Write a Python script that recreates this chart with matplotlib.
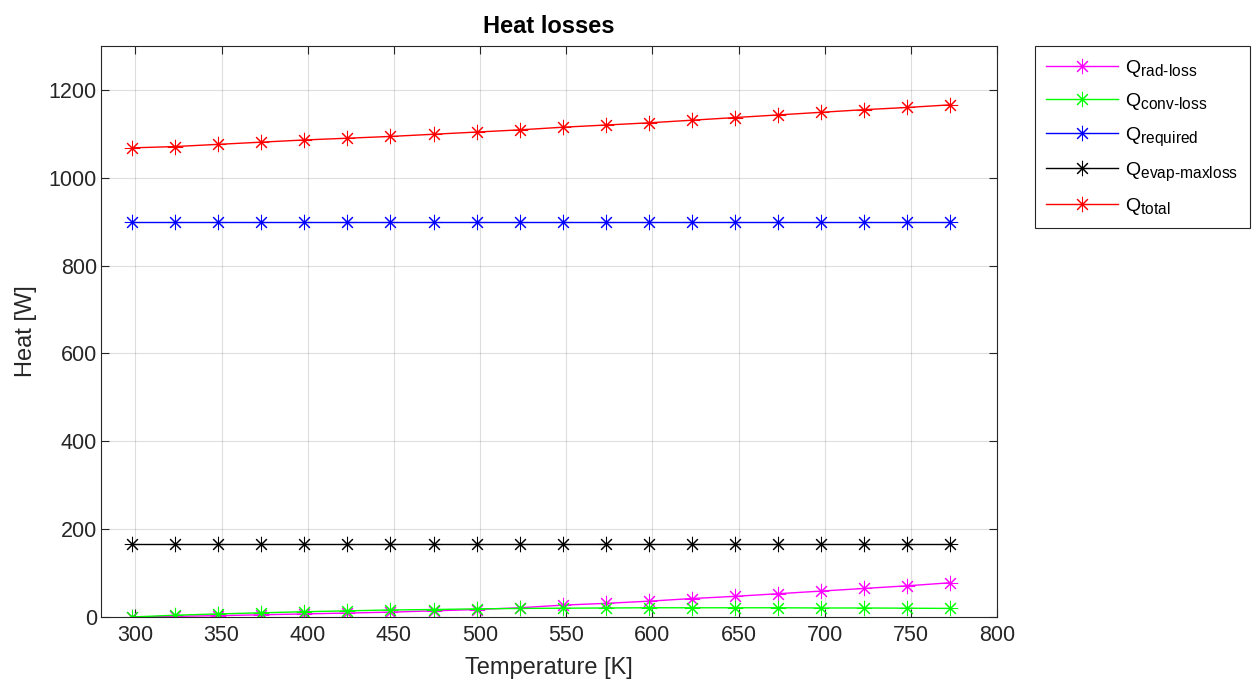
import matplotlib
matplotlib.use("Agg")
from matplotlib import pyplot as plt
import matplotlib._mathtext as mt

plt.rcParams['font.family'] = ['Liberation Sans', 'DejaVu Sans']
plt.rcParams['mathtext.fontset'] = 'custom'
plt.rcParams['mathtext.rm'] = 'Liberation Sans'
plt.rcParams['mathtext.it'] = 'Liberation Sans'
# MATLAB's subscripts are a bit bigger than mathtext's default
mt.SHRINK_FACTOR = 0.8

# temperature steps [K]
temperature = [298, 323, 348, 373, 398, 423, 448, 473, 498, 523,
               548, 573, 598, 623, 648, 673, 698, 723, 748, 773]

# heat values [W]
q_rad_loss = [0, 1.5, 3, 5, 7, 9, 11, 14, 17, 21,
              27, 31, 36, 42, 47, 53, 59, 65, 71, 78]
q_conv_loss = [0, 4, 7, 9.5, 12, 14, 16, 17, 18.5, 19.5,
               20, 20.5, 21, 21, 21, 21, 20.5, 20.5, 20, 19.5]
q_required = [900] * 20
q_evap_maxloss = [167] * 20
q_total = [1068, 1071, 1076, 1081, 1086, 1090, 1094, 1099, 1104, 1109,
           1115, 1120, 1125, 1131, 1137, 1143, 1149, 1155, 1160, 1166]

series = [
    (q_rad_loss, (1, 0, 1), r'Q$_\text{rad-loss}$'),
    (q_conv_loss, (0, 1, 0), r'Q$_\text{conv-loss}$'),
    (q_required, (0, 0, 1), r'Q$_\text{required}$'),
    (q_evap_maxloss, (0, 0, 0), r'Q$_\text{evap-maxloss}$'),
    (q_total, (1, 0, 0), r'Q$_\text{total}$'),
]

fig = plt.figure(figsize=(12.59, 6.86), dpi=100)
ax = fig.add_axes([0.0802, 0.1006, 0.7117, 0.8324])

# MATLAB-like asterisk marker (8 arms)
star = (8, 2, 0)
for values, color, label in series:
    ax.plot(temperature, values, '-', color=color, marker=star,
            markersize=11, markeredgewidth=0.75, linewidth=1.0, label=label)

ax.set_xlim(280, 800)
ax.set_ylim(0, 1300)
ax.set_xticks(range(300, 801, 50))
ax.set_yticks(range(0, 1201, 200))

dark = (0.15, 0.15, 0.15)
ax.grid(True, color=dark, alpha=0.15, linewidth=0.8)
ax.set_axisbelow(True)
for spine in ax.spines.values():
    spine.set_color(dark)
    spine.set_linewidth(0.8)
ax.tick_params(direction='in', top=True, right=True, colors=dark,
               labelsize=15.5, length=6, width=0.8)
ax.tick_params(axis='x', pad=6)
ax.tick_params(axis='y', pad=3)
for lbl in ax.get_xticklabels() + ax.get_yticklabels():
    lbl.set_color(dark)

ax.set_xlabel('Temperature [K]', fontsize=17, color=dark, labelpad=8)
ax.set_ylabel('Heat [W]', fontsize=17, color=dark, labelpad=8)
ax.set_title('Heat losses', fontsize=17, fontweight='bold', pad=9)

leg = ax.legend(loc='upper left', bbox_to_anchor=(1.042, 1.0), borderaxespad=0,
                fontsize=14, handlelength=3.7, handletextpad=0.35,
                labelspacing=0.65, borderpad=0.6,
                fancybox=False, framealpha=1, edgecolor=dark)
leg.get_frame().set_linewidth(0.8)

fig.savefig('out.png', dpi=100)
